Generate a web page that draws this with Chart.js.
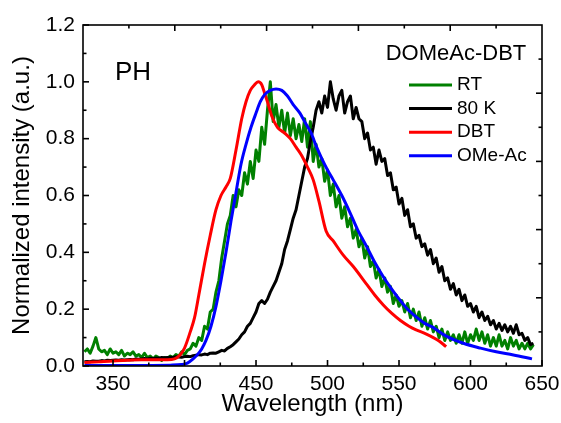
<!DOCTYPE html>
<html>
<head>
<meta charset="utf-8">
<script src="https://cdn.jsdelivr.net/npm/chart.js@4.4.0/dist/chart.umd.min.js"></script>
<style>
  html, body { margin: 0; padding: 0; background: #fff; }
</style>
</head>
<body>
<canvas id="spectra" width="561" height="423"></canvas>
<script>
// axis ticks
let xTicks = [350, 400, 450, 500, 550, 600, 650];
let xMinor = [375, 425, 475, 525, 575, 625];
let yTicks = [0, 0.2, 0.4, 0.6, 0.8, 1.0, 1.2];
let yMinor = [0.1, 0.3, 0.5, 0.7, 0.9, 1.1];

let legendNames = ["RT", "80 K", "DBT", "OMe-Ac"];
let legendColors = ["#008000", "#000000", "#ff0000", "#0000ff"];

// RT (green, noisy)
let rtWl = [330,332,334,336,338,340,342,344,346,348,350,352,354,356,358,360,362,364,366,368,
  370,372,374,376,378,380,382,384,386,388,390,392,394,396,398,400,402,404,406,408,
  410,412,414,416,418,420,422,424,426,428,430,432,434,436,438,440,442,444,446,448,
  450,452,454,456,458,460,462,464,466,468,470,472,474,476,478,480,482,484,486,488,
  490,492,494,496,498,500,502,504,506,508,510,512,514,516,518,520,522,524,526,528,
  530,532,534,536,538,540,542,544,546,548,550,552,554,556,558,560,562,564,566,568,
  570,572,574,576,578,580,582,584,586,588,590,592,594,596,598,600,602,604,606,608,
  610,612,614,616,618,620,622,624,626,628,630,632,634,636,638,640,642,644];
let rtVal = [0.05,0.06,0.045,0.07,0.10,0.06,0.05,0.055,0.04,0.06,0.045,0.05,0.04,0.055,0.035,0.045,0.04,0.05,0.035,0.04,
  0.03,0.045,0.03,0.035,0.025,0.035,0.03,0.02,0.03,0.025,0.035,0.03,0.04,0.035,0.05,0.04,0.055,0.06,0.08,0.07,
  0.10,0.09,0.14,0.13,0.19,0.20,0.26,0.30,0.38,0.44,0.50,0.53,0.60,0.56,0.62,0.60,0.68,0.64,0.72,0.66,
  0.76,0.72,0.84,0.78,0.90,1.00,0.86,0.92,0.84,0.90,0.82,0.89,0.81,0.87,0.80,0.85,0.79,0.87,0.77,0.86,
  0.72,0.78,0.70,0.73,0.65,0.69,0.60,0.64,0.56,0.60,0.52,0.56,0.49,0.52,0.45,0.48,0.42,0.45,0.38,0.42,
  0.35,0.37,0.31,0.34,0.28,0.31,0.26,0.28,0.22,0.25,0.21,0.23,0.19,0.22,0.17,0.20,0.16,0.19,0.14,0.17,
  0.13,0.16,0.12,0.14,0.10,0.13,0.09,0.12,0.09,0.11,0.08,0.11,0.08,0.12,0.08,0.11,0.09,0.13,0.09,0.12,
  0.08,0.11,0.07,0.10,0.07,0.11,0.07,0.09,0.06,0.10,0.07,0.09,0.06,0.08,0.06,0.08,0.06,0.075];

// 80 K (black, noisy)
let lowTWl = rtWl;
let lowTVal = [0.015,0.016,0.015,0.018,0.017,0.017,0.019,0.018,0.020,0.019,0.020,0.021,0.020,0.022,0.021,0.022,0.023,0.022,0.025,0.024,
  0.025,0.026,0.025,0.027,0.026,0.028,0.027,0.030,0.029,0.030,0.031,0.030,0.033,0.032,0.031,0.033,0.034,0.033,0.036,0.038,
  0.040,0.039,0.042,0.040,0.045,0.046,0.045,0.050,0.055,0.053,0.062,0.068,0.075,0.085,0.095,0.11,0.12,0.14,0.15,0.17,
  0.19,0.22,0.23,0.22,0.235,0.26,0.28,0.30,0.33,0.36,0.41,0.44,0.48,0.52,0.55,0.60,0.65,0.70,0.73,0.79,
  0.84,0.90,0.93,0.89,0.95,0.91,1.00,0.94,0.90,0.95,0.97,0.89,0.93,0.95,0.87,0.91,0.87,0.86,0.80,0.82,
  0.76,0.77,0.71,0.76,0.72,0.73,0.67,0.68,0.62,0.63,0.57,0.59,0.53,0.55,0.49,0.50,0.45,0.46,0.42,0.43,
  0.39,0.41,0.36,0.38,0.33,0.35,0.30,0.31,0.27,0.29,0.25,0.27,0.23,0.25,0.21,0.22,0.19,0.21,0.17,0.19,
  0.16,0.175,0.145,0.16,0.13,0.15,0.125,0.145,0.12,0.14,0.115,0.145,0.11,0.115,0.09,0.10,0.075,0.08];

// DBT (red, smooth)
let dbtWl = [330,340,350,360,370,380,388,393,397,400,404,407,410,414,418,422,425.5,429,432,436,
  440,443,446,449,451.5,454,456,458,461,465,470,474,478,482,486,490,494,499,504,511,
  518,527,533,539,545,551,557,562,568,574,578,583];
let dbtVal = [0.012,0.015,0.018,0.02,0.022,0.022,0.022,0.025,0.04,0.063,0.12,0.17,0.25,0.36,0.46,0.55,0.60,0.63,0.66,0.76,
  0.87,0.93,0.97,0.99,1.0,0.99,0.96,0.93,0.88,0.84,0.82,0.80,0.77,0.74,0.70,0.655,0.58,0.475,0.44,0.39,
  0.35,0.29,0.25,0.215,0.185,0.16,0.14,0.127,0.115,0.10,0.088,0.068];

// OMe-Ac (blue, smooth)
let omeWl = [330,360,390,398,402,406,409,412,415,418.5,422,425.5,429,432.5,436,439.5,443,446.5,450,453,
  456,460,464,468,472,476,480.7,484,488.5,492.4,496,500,504,510,515.7,521,527.4,533,539,545,
  550.7,556,562,568,574,583,595,607,618,630,643];
let omeVal = [0.002,0.002,0.003,0.005,0.01,0.025,0.04,0.06,0.09,0.14,0.21,0.30,0.40,0.51,0.61,0.71,0.78,0.84,0.89,0.93,
  0.955,0.97,0.975,0.97,0.95,0.92,0.89,0.86,0.82,0.77,0.73,0.69,0.655,0.60,0.54,0.48,0.42,0.365,0.314,0.27,
  0.232,0.20,0.173,0.15,0.135,0.105,0.08,0.063,0.05,0.039,0.025];

function pts(xs, ys) {
  return xs.map(function (x, i) { return { x: x, y: ys[i] }; });
}

let fontFamily = "'Liberation Sans', Arial, sans-serif";
Chart.defaults.font.family = fontFamily;
Chart.defaults.color = "#000";

// frame, inward ticks, legend and PH label
let decorations = {
  id: "decorations",
  afterDraw: function (chart) {
    let ctx = chart.ctx;
    let a = chart.chartArea;
    let xs = chart.scales.x;
    let ys = chart.scales.y;
    ctx.save();
    ctx.strokeStyle = "#000";
    ctx.lineWidth = 1.6;
    ctx.strokeRect(a.left, a.top, a.right - a.left, a.bottom - a.top);

    function seg(x1, y1, x2, y2) {
      ctx.beginPath();
      ctx.moveTo(x1, y1);
      ctx.lineTo(x2, y2);
      ctx.stroke();
    }
    xTicks.forEach(function (v) { let p = xs.getPixelForValue(v); seg(p, a.bottom, p, a.bottom - 6); });
    xMinor.forEach(function (v) { let p = xs.getPixelForValue(v); seg(p, a.bottom, p, a.bottom - 3.5); });
    yTicks.forEach(function (v) { let p = ys.getPixelForValue(v); seg(a.left, p, a.left + 6, p); });
    yMinor.forEach(function (v) { let p = ys.getPixelForValue(v); seg(a.left, p, a.left + 3.5, p); });
    // top and right axes: ten even divisions
    for (let k = 1; k < 10; k++) {
      let len = k % 2 == 0 ? 6 : 3.5;
      let px = a.left + (a.right - a.left) * k / 10;
      seg(px, a.top, px, a.top + len);
      let py = a.top + (a.bottom - a.top) * k / 10;
      seg(a.right, py, a.right - len, py);
    }

    ctx.fillStyle = "#000";
    ctx.textBaseline = "middle";
    ctx.font = "26px " + fontFamily;
    ctx.textAlign = "left";
    ctx.fillText("PH", 115, 73);

    ctx.font = "22px " + fontFamily;
    ctx.textAlign = "center";
    ctx.fillText("DOMeAc-DBT", 456, 54);

    ctx.font = "19px " + fontFamily;
    ctx.textAlign = "left";
    ctx.lineWidth = 3;
    for (let i = 0; i < legendNames.length; i++) {
      let y = 85 + i * 23.6;
      ctx.strokeStyle = legendColors[i];
      seg(409, y, 452, y);
      ctx.fillText(legendNames[i], 457, y);
    }
    ctx.restore();
  }
};

let ctx = document.getElementById("spectra").getContext("2d");
let chart = new Chart(ctx, {
  type: "line",
  data: {
    datasets: [
      { label: "OMe-Ac", data: pts(omeWl, omeVal), borderColor: legendColors[3], borderWidth: 3, cubicInterpolationMode: "monotone", order: 0 },
      { label: "DBT", data: pts(dbtWl, dbtVal), borderColor: legendColors[2], borderWidth: 3, cubicInterpolationMode: "monotone", order: 1 },
      { label: "80 K", data: pts(lowTWl, lowTVal), borderColor: legendColors[1], borderWidth: 3, order: 2 },
      { label: "RT", data: pts(rtWl, rtVal), borderColor: legendColors[0], borderWidth: 3, order: 3 }
    ]
  },
  options: {
    responsive: false,
    animation: false,
    layout: { padding: { left: 0, right: 19, top: 25, bottom: 0 } },
    plugins: { legend: { display: false }, tooltip: { enabled: false } },
    elements: { point: { radius: 0 }, line: { borderJoinStyle: "round" } },
    scales: {
      x: {
        type: "linear",
        min: 329,
        max: 650,
        afterBuildTicks: function (s) { s.ticks = xTicks.map(function (v) { return { value: v }; }); },
        afterFit: function (s) { s.height = 57; s.paddingLeft = 0; s.paddingRight = 0; },
        grid: { display: false, drawTicks: false },
        border: { display: false },
        ticks: { font: { size: 21 }, padding: 6, maxRotation: 0, autoSkip: false },
        title: { display: true, text: "Wavelength (nm)", font: { size: 24 }, padding: { top: 0, bottom: 4 } }
      },
      y: {
        min: 0,
        max: 1.2,
        afterBuildTicks: function (s) { s.ticks = yTicks.map(function (v) { return { value: v }; }); },
        afterFit: function (s) { s.width = 83; s.paddingTop = 0; s.paddingBottom = 0; },
        grid: { display: false, drawTicks: false },
        border: { display: false },
        ticks: { font: { size: 21 }, padding: 8, callback: function (v) { return v.toFixed(1); } },
        title: { display: true, text: "Normalized intensity (a.u.)", font: { size: 24 }, padding: { top: 8, bottom: 0 } }
      }
    }
  },
  plugins: [decorations]
});
</script>
</body>
</html>
